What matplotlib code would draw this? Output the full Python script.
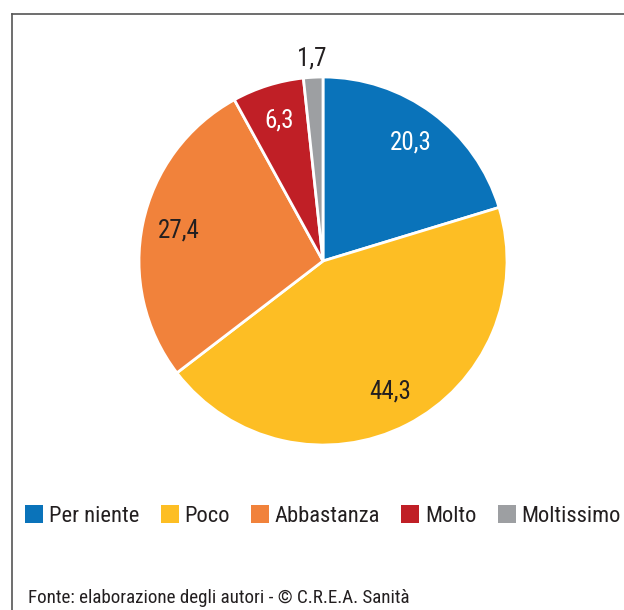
import numpy as np
import matplotlib
matplotlib.use("Agg")
import matplotlib.pyplot as plt
from matplotlib.lines import Line2D
from matplotlib.patches import Patch

categorie = ["Per niente", "Poco", "Abbastanza", "Molto", "Moltissimo"]
valori = [20.3, 44.3, 27.4, 6.3, 1.7]
colori = ["#0A73BA", "#FDBE24", "#F1823B", "#C01F26", "#9D9FA2"]
colori_etichette = ["white", "#231F20", "#231F20", "white", "#231F20"]
fonte = "Fonte: elaborazione degli autori - © C.R.E.A. Sanità"

plt.rcParams["font.family"] = ["Roboto Condensed", "DejaVu Sans"]

W, H = 624, 610
fig = plt.figure(figsize=(W / 100, H / 100), dpi=100)

# cornice (bordo sinistro e superiore)
fig.add_artist(Line2D([12 / W, 12 / W], [0, 1 - 14 / H], color="#555555", lw=1.2))
fig.add_artist(Line2D([12 / W, 1], [1 - 14 / H, 1 - 14 / H], color="#555555", lw=1.2))

cx, cy, r = 323, 261, 184
ax = fig.add_axes([(cx - r) / W, 1 - (cy + r) / H, 2 * r / W, 2 * r / H])
wedges, _ = ax.pie(valori, colors=colori, startangle=90, counterclock=False,
                   radius=1, wedgeprops=dict(edgecolor="white", linewidth=2))
ax.set_xlim(-1, 1)
ax.set_ylim(-1, 1)
ax.axis("off")

for w, v, c in zip(wedges, valori, colori_etichette):
    ang = np.deg2rad((w.theta1 + w.theta2) / 2)
    dist = 1.1 if v < 3 else 0.8
    ax.text(dist * np.cos(ang), dist * np.sin(ang), f"{v:.1f}".replace(".", ","),
            ha="center", va="center", fontsize=18, color=c, clip_on=False)

handles = [Patch(facecolor=c, edgecolor="none") for c in colori]
fig.legend(handles, categorie, loc="center", bbox_to_anchor=(323 / W, 1 - 516 / H),
           ncol=5, frameon=False, fontsize=16.2, handlelength=0.8, handleheight=0.8,
           handletextpad=0.25, columnspacing=0.95, labelcolor="#231F20",
           borderaxespad=0, borderpad=0)

fig.text(28 / W, 1 - 598 / H, fonte, fontsize=13.7, color="#231F20", va="center", ha="left")

fig.savefig("out.png", dpi=100)
